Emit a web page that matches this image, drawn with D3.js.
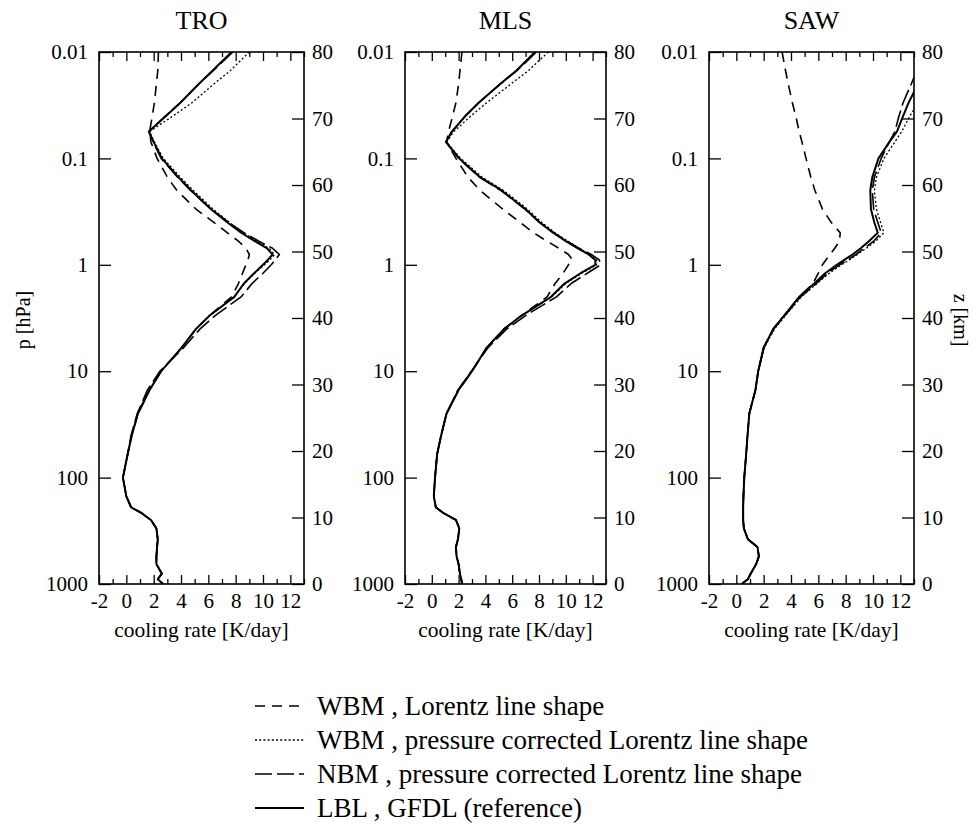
<!DOCTYPE html>
<html>
<head>
<meta charset="utf-8">
<script src="https://cdnjs.cloudflare.com/ajax/libs/d3/7.8.5/d3.min.js"></script>
<style>
body { margin: 0; background: #fff; }
svg text { font-family: "Liberation Serif", "Times New Roman", serif; fill: #000; }
</style>
</head>
<body>
<svg id="chart" width="973" height="828"></svg>
<script>
// pressure levels [hPa], shared by every profile below
var levels = [0.01, 0.015, 0.02, 0.03, 0.04, 0.056, 0.07, 0.1, 0.15, 0.2,
    0.3, 0.4, 0.5, 0.6, 0.7, 0.8, 0.9, 1, 1.2, 1.5,
    2, 3, 4, 6, 10, 15, 25, 40, 60, 100,
    150, 190, 215, 250, 300, 380, 450, 550, 650, 800,
    900, 1000];

// cooling rates [K/day] at each level
var troWBML = [2.35, 2.3, 2.2, 2.05, 1.9, 1.7, 1.8, 2.25, 3.0, 3.7,
    5.1, 6.4, 7.4, 8.2, 8.75, 9.0, 8.9, 8.75, 8.5, 8.2,
    7.7, 6.1, 5.1, 4.05, 2.55, 1.7, 0.85, 0.4, 0.1, -0.25,
    0.0, 0.35, 1.1, 1.8, 2.2, 2.3, 2.25, 2.2, 2.2, 2.6,
    2.3, 2.7];
var troWBMpc = [9.0, 7.6, 6.4, 4.8, 3.4, 1.7, 2.05, 2.7, 3.95, 4.9,
    6.35, 7.55, 8.55, 9.55, 10.45, 10.85, 10.5, 10.1, 9.4, 8.65,
    7.9, 6.1, 5.1, 4.05, 2.55, 1.7, 0.85, 0.4, 0.1, -0.25,
    0.0, 0.35, 1.1, 1.8, 2.2, 2.3, 2.25, 2.2, 2.2, 2.6,
    2.3, 2.7];
var troNBM = [7.8, 6.35, 5.3, 3.95, 2.85, 1.65, 1.95, 2.55, 3.75, 4.7,
    6.2, 7.5, 8.6, 9.7, 10.7, 11.2, 10.9, 10.6, 10.0, 9.2,
    8.4, 6.5, 5.4, 4.2, 2.45, 1.55, 0.8, 0.35, 0.1, -0.25,
    0.0, 0.35, 1.1, 1.8, 2.2, 2.3, 2.25, 2.2, 2.2, 2.6,
    2.3, 2.7];
var troLBL = [7.7, 6.3, 5.3, 3.95, 2.9, 1.65, 2.0, 2.6, 3.8, 4.75,
    6.2, 7.4, 8.4, 9.4, 10.3, 10.7, 10.35, 10.0, 9.35, 8.6,
    7.9, 6.1, 5.1, 4.05, 2.55, 1.7, 0.85, 0.4, 0.1, -0.25,
    0.0, 0.35, 1.1, 1.8, 2.2, 2.3, 2.25, 2.2, 2.2, 2.6,
    2.3, 2.7];

var mlsWBML = [2.25, 2.1, 2.0, 1.8, 1.55, 1.25, 1.1, 1.8, 2.7, 3.6,
    5.3, 6.6, 7.6, 8.6, 9.5, 10.2, 10.5, 10.2, 9.8, 9.2,
    8.6, 6.7, 5.4, 4.1, 3.0, 2.0, 1.1, 0.7, 0.4, 0.24,
    0.15, 0.3, 0.85, 1.8, 2.05, 1.95, 1.8, 1.85, 2.0, 2.1,
    2.2, 2.25];
var mlsWBMpc = [8.7, 7.2, 5.9, 4.1, 2.9, 1.65, 1.1, 2.15, 3.75, 5.35,
    7.15, 8.2, 9.2, 10.15, 11.0, 11.8, 12.3, 12.3, 11.2, 10.0,
    8.95, 6.7, 5.4, 4.1, 3.0, 2.0, 1.1, 0.7, 0.4, 0.24,
    0.15, 0.3, 0.85, 1.8, 2.05, 1.95, 1.8, 1.85, 2.0, 2.1,
    2.2, 2.25];
var mlsNBM = [7.8, 6.35, 5.1, 3.5, 2.5, 1.5, 1.05, 2.0, 3.55, 5.15,
    6.95, 8.05, 9.1, 10.1, 11.0, 11.9, 12.5, 12.6, 11.6, 10.4,
    9.3, 7.0, 5.6, 4.2, 2.95, 1.95, 1.1, 0.7, 0.4, 0.24,
    0.15, 0.3, 0.85, 1.8, 2.05, 1.95, 1.8, 1.85, 2.0, 2.1,
    2.2, 2.25];
var mlsLBL = [7.7, 6.3, 5.1, 3.5, 2.5, 1.5, 1.05, 2.05, 3.6, 5.2,
    7.0, 8.05, 9.05, 10.0, 10.9, 11.7, 12.2, 12.2, 11.1, 9.9,
    8.9, 6.7, 5.4, 4.1, 3.0, 2.0, 1.1, 0.7, 0.4, 0.24,
    0.15, 0.3, 0.85, 1.8, 2.05, 1.95, 1.8, 1.85, 2.0, 2.1,
    2.2, 2.25];

var sawWBML = [3.35, 3.6, 3.8, 4.1, 4.35, 4.6, 4.8, 5.1, 5.45, 5.75,
    6.3, 6.95, 7.6, 7.55, 7.2, 6.85, 6.55, 6.3, 6.0, 5.6,
    4.6, 3.5, 2.7, 2.0, 1.6, 1.4, 0.95, 0.82, 0.72, 0.58,
    0.52, 0.5, 0.5, 0.5, 0.55, 0.85, 1.55, 1.65, 1.45, 1.05,
    0.85, 0.4];
var sawWBMpc = [16.0, 15.0, 14.3, 13.3, 12.7, 12.1, 11.6, 10.8, 10.25, 10.1,
    10.25, 10.55, 10.8, 10.2, 9.5, 8.85, 8.25, 7.7, 6.8, 5.9,
    4.75, 3.6, 2.8, 2.05, 1.6, 1.4, 0.95, 0.82, 0.72, 0.58,
    0.52, 0.5, 0.5, 0.5, 0.55, 0.85, 1.55, 1.65, 1.45, 1.05,
    0.85, 0.4];
var sawNBM = [14.2, 13.2, 12.8, 12.2, 11.9, 11.6, 11.2, 10.6, 10.1, 9.95,
    10.05, 10.35, 10.6, 10.05, 9.35, 8.75, 8.15, 7.55, 6.65, 5.85,
    4.7, 3.55, 2.75, 2.0, 1.6, 1.4, 0.95, 0.82, 0.72, 0.58,
    0.52, 0.5, 0.5, 0.5, 0.55, 0.85, 1.55, 1.65, 1.45, 1.05,
    0.85, 0.4];
var sawLBL = [14.8, 14.0, 13.3, 12.6, 12.2, 11.75, 11.2, 10.4, 9.95, 9.8,
    9.85, 10.1, 10.35, 9.7, 9.1, 8.5, 7.9, 7.35, 6.5, 5.7,
    4.6, 3.5, 2.7, 2.0, 1.6, 1.4, 0.95, 0.82, 0.72, 0.58,
    0.52, 0.5, 0.5, 0.5, 0.55, 0.85, 1.55, 1.65, 1.45, 1.05,
    0.85, 0.4];

var panelNames = ["TRO", "MLS", "SAW"];
var xTicks = [-2, 0, 2, 4, 6, 8, 10, 12];
var xMinorTicks = [-1, 1, 3, 5, 7, 9, 11, 13];
var pTicks = [0.01, 0.1, 1, 10, 100, 1000];
var pTickLabels = ["0.01", "0.1", "1", "10", "100", "1000"];
var zTicks = [0, 10, 20, 30, 40, 50, 60, 70, 80];
var legendLabels = ["WBM , Lorentz line shape",
    "WBM , pressure corrected Lorentz line shape",
    "NBM , pressure corrected Lorentz line shape",
    "LBL , GFDL (reference)"];

// layout
var panelLeft = [99, 405, 709];
var panelWidth = [205, 201, 205];
var plotTop = 52;
var plotBottom = 584;

// one style per series: short dash, dots, long dash, solid
var lineStyles = [
    {dash: "10,7", width: 1.6},
    {dash: "2,2.2", width: 1.3},
    {dash: "17,5", width: 1.6},
    {dash: null, width: 2}
];

var panelSeries = [
    [troWBML, troWBMpc, troNBM, troLBL],
    [mlsWBML, mlsWBMpc, mlsNBM, mlsLBL],
    [sawWBML, sawWBMpc, sawNBM, sawLBL]
];

var svg = d3.select("#chart");
var defs = svg.append("defs");

var y = d3.scaleLog().domain([0.01, 1000]).range([plotTop, plotBottom]);
var z = d3.scaleLinear().domain([0, 80]).range([plotBottom, plotTop]);

function styleAxis(g, size) {
    g.select(".domain").remove();
    g.attr("font-family", null).attr("font-size", null);
    g.selectAll("line").attr("stroke", "#000").attr("stroke-width", 1.3);
    g.selectAll("text")
        .attr("fill", "#000")
        .style("font-size", size + "px");
}

panelNames.forEach(function (name, k) {
    var left = panelLeft[k];
    var w = panelWidth[k];
    var x = d3.scaleLinear().domain([-2, 13]).range([left, left + w]);
    var g = svg.append("g").attr("class", "panel");

    defs.append("clipPath")
        .attr("id", "clip" + k)
        .append("rect")
        .attr("x", left)
        .attr("y", plotTop)
        .attr("width", w)
        .attr("height", plotBottom - plotTop);

    var line = d3.line()
        .x(function (d) { return x(d[1]); })
        .y(function (d) { return y(d[0]); });

    var lines = g.append("g").attr("clip-path", "url(#clip" + k + ")");
    panelSeries[k].forEach(function (values, s) {
        var pts = levels.map(function (p, i) { return [p, values[i]]; });
        lines.append("path")
            .datum(pts)
            .attr("d", line)
            .attr("fill", "none")
            .attr("stroke", "#000")
            .attr("stroke-width", lineStyles[s].width)
            .attr("stroke-dasharray", lineStyles[s].dash)
            .attr("stroke-linejoin", "round");
    });

    //bottom axis, major ticks with labels and minor ticks between
    g.append("g")
        .attr("transform", "translate(0," + plotBottom + ")")
        .call(d3.axisBottom(x).tickValues(xMinorTicks).tickSizeInner(-5)
            .tickSizeOuter(0).tickFormat(""))
        .call(styleAxis, 21);
    g.append("g")
        .attr("transform", "translate(0," + plotBottom + ")")
        .call(d3.axisBottom(x).tickValues(xTicks).tickSizeInner(-9)
            .tickSizeOuter(0).tickPadding(9)
            .tickFormat(function (d) { return String(d); }))
        .call(styleAxis, 21);

    //top axis, ticks only
    g.append("g")
        .attr("transform", "translate(0," + plotTop + ")")
        .call(d3.axisTop(x).tickValues(xMinorTicks).tickSizeInner(-5)
            .tickSizeOuter(0).tickFormat(""))
        .call(styleAxis, 21);
    g.append("g")
        .attr("transform", "translate(0," + plotTop + ")")
        .call(d3.axisTop(x).tickValues(xTicks).tickSizeInner(-9)
            .tickSizeOuter(0).tickFormat(""))
        .call(styleAxis, 21);

    g.append("g")
        .attr("transform", "translate(" + left + ",0)")
        .call(d3.axisLeft(y).tickValues(pTicks).tickSizeInner(-12)
            .tickSizeOuter(0).tickPadding(11)
            .tickFormat(function (d, i) { return pTickLabels[i]; }))
        .call(styleAxis, 21);

    g.append("g")
        .attr("transform", "translate(" + (left + w) + ",0)")
        .call(d3.axisRight(z).tickValues(zTicks).tickSizeInner(-12)
            .tickSizeOuter(0).tickPadding(8))
        .call(styleAxis, 21);

    g.append("rect")
        .attr("x", left)
        .attr("y", plotTop)
        .attr("width", w)
        .attr("height", plotBottom - plotTop)
        .attr("fill", "none")
        .attr("stroke", "#000")
        .attr("stroke-width", 1.6);

    g.append("text")
        .attr("x", left + w / 2)
        .attr("y", 29)
        .attr("text-anchor", "middle")
        .style("font-size", "26px")
        .text(name);

    g.append("text")
        .attr("x", left + w / 2)
        .attr("y", 637)
        .attr("text-anchor", "middle")
        .style("font-size", "21.5px")
        .text("cooling rate [K/day]");
});

svg.append("text")
    .attr("transform", "translate(30,320) rotate(-90)")
    .attr("text-anchor", "middle")
    .style("font-size", "20px")
    .text("p [hPa]");

svg.append("text")
    .attr("transform", "translate(954,320) rotate(90)")
    .attr("text-anchor", "middle")
    .style("font-size", "20px")
    .text("z [km]");

//legend
var legendTop = 706;
var legendStep = 34;
var legend = svg.append("g");
legendLabels.forEach(function (label, i) {
    var ly = legendTop + i * legendStep;
    legend.append("line")
        .attr("x1", 255)
        .attr("x2", 304)
        .attr("y1", ly)
        .attr("y2", ly)
        .attr("stroke", "#000")
        .attr("stroke-width", lineStyles[i].width)
        .attr("stroke-dasharray", lineStyles[i].dash);
    legend.append("text")
        .attr("x", 317)
        .attr("y", ly)
        .attr("dy", "0.35em")
        .style("font-size", "27px")
        .text(label);
});
</script>
</body>
</html>
